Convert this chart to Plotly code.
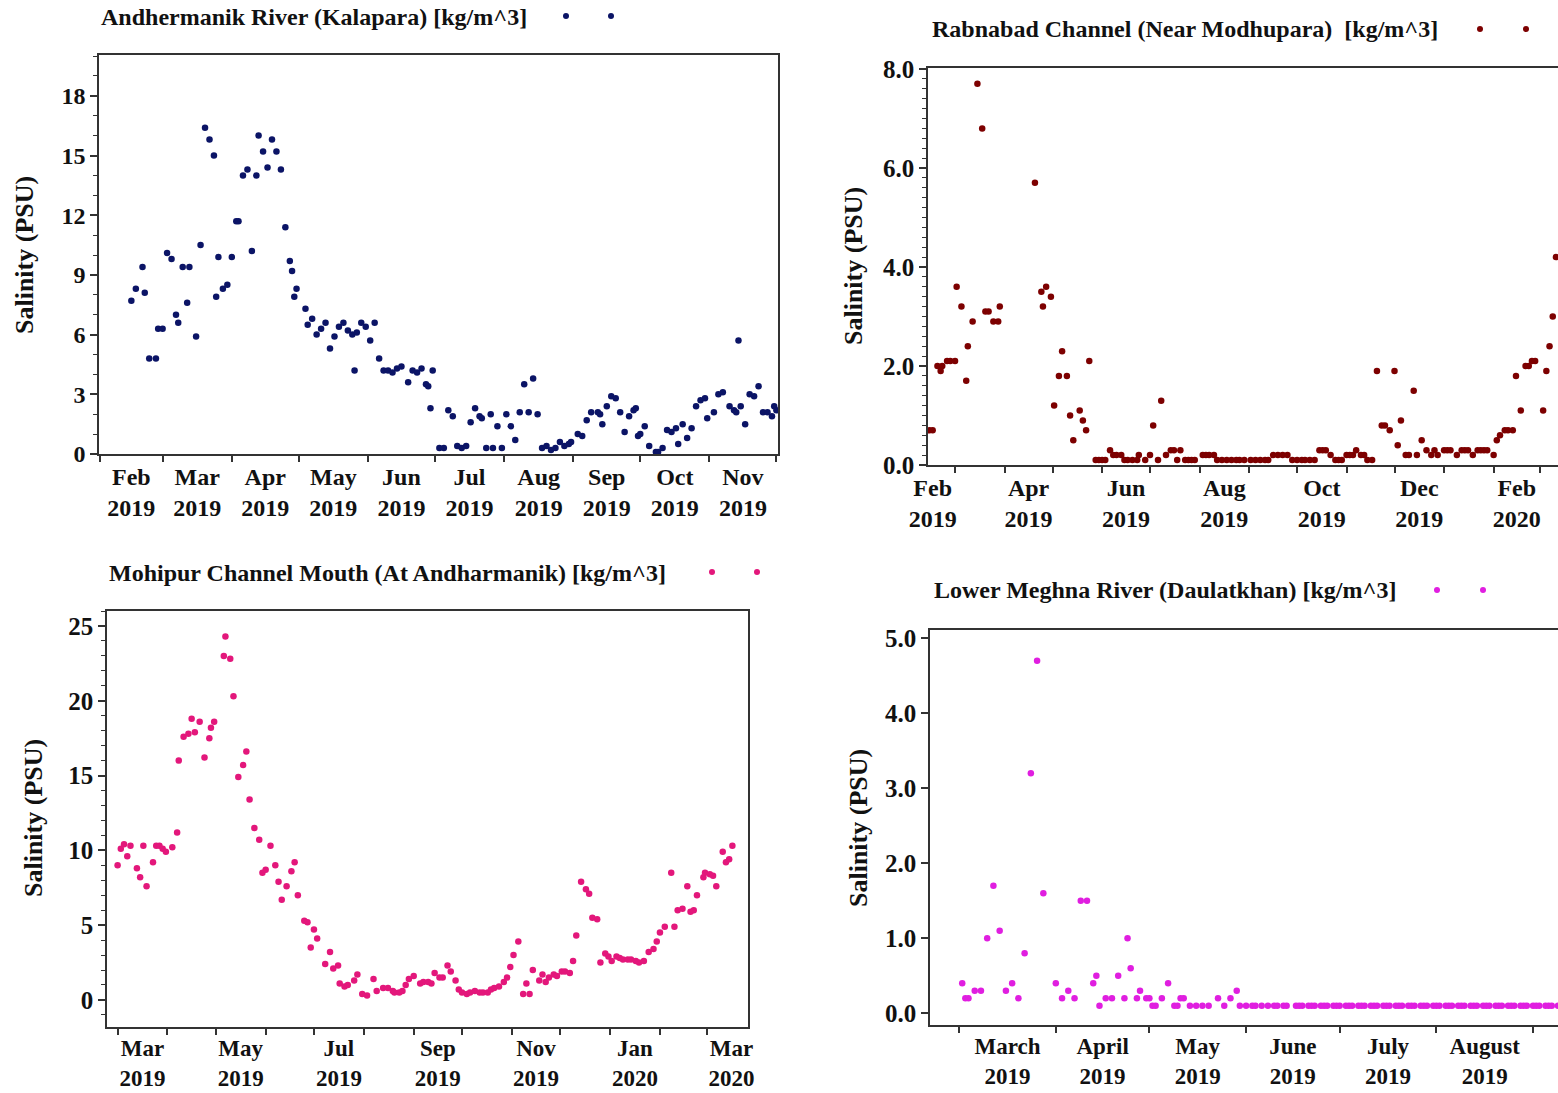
import pandas as pd
import plotly.graph_objects as go

# ---------------- DATA ----------------
# Panel 1: Andhermanik River (Kalapara)
A_DATES = [
    "2019-02-15", "2019-02-17", "2019-02-20", "2019-02-21", "2019-02-23", "2019-02-26", "2019-02-27",
    "2019-03-01", "2019-03-03", "2019-03-05", "2019-03-07", "2019-03-08", "2019-03-10", "2019-03-12",
    "2019-03-13", "2019-03-16", "2019-03-18", "2019-03-20", "2019-03-22", "2019-03-24", "2019-03-25",
    "2019-03-26", "2019-03-28", "2019-03-30",
    "2019-04-01", "2019-04-03", "2019-04-04", "2019-04-06", "2019-04-08", "2019-04-10", "2019-04-12",
    "2019-04-13", "2019-04-15", "2019-04-17", "2019-04-19", "2019-04-21", "2019-04-23", "2019-04-25",
    "2019-04-27", "2019-04-28", "2019-04-29", "2019-04-30",
    "2019-05-04", "2019-05-05", "2019-05-07", "2019-05-09", "2019-05-11", "2019-05-13", "2019-05-15",
    "2019-05-17", "2019-05-19", "2019-05-21", "2019-05-23", "2019-05-25", "2019-05-26", "2019-05-27",
    "2019-05-29", "2019-05-31",
    "2019-06-02", "2019-06-04", "2019-06-06", "2019-06-08", "2019-06-10", "2019-06-12", "2019-06-14",
    "2019-06-16", "2019-06-19", "2019-06-21", "2019-06-23", "2019-06-25", "2019-06-27", "2019-06-28",
    "2019-06-29", "2019-06-30",
    "2019-07-03", "2019-07-05", "2019-07-07", "2019-07-09", "2019-07-11", "2019-07-13", "2019-07-15",
    "2019-07-17", "2019-07-19", "2019-07-21", "2019-07-22", "2019-07-24", "2019-07-26", "2019-07-27",
    "2019-07-29", "2019-07-31",
    "2019-08-02", "2019-08-04", "2019-08-06", "2019-08-08", "2019-08-10", "2019-08-12", "2019-08-14",
    "2019-08-16", "2019-08-18", "2019-08-20", "2019-08-22", "2019-08-24", "2019-08-26", "2019-08-28",
    "2019-08-30", "2019-08-31",
    "2019-09-03", "2019-09-05", "2019-09-07", "2019-09-09", "2019-09-12", "2019-09-13", "2019-09-14",
    "2019-09-16", "2019-09-18", "2019-09-20", "2019-09-22", "2019-09-24", "2019-09-26", "2019-09-28",
    "2019-09-29", "2019-09-30",
    "2019-10-01", "2019-10-03", "2019-10-05", "2019-10-08", "2019-10-09", "2019-10-11", "2019-10-13",
    "2019-10-15", "2019-10-17", "2019-10-18", "2019-10-20", "2019-10-22", "2019-10-24", "2019-10-26",
    "2019-10-28", "2019-10-30", "2019-10-31",
    "2019-11-03", "2019-11-05", "2019-11-07", "2019-11-10", "2019-11-12", "2019-11-13", "2019-11-14",
    "2019-11-15", "2019-11-17", "2019-11-19", "2019-11-21", "2019-11-23", "2019-11-25", "2019-11-27",
    "2019-11-29", "2019-11-30", "2019-12-01",
]
A_VALUES = [
    7.7, 8.3, 9.4, 8.1, 4.8, 4.8, 6.3,
    6.3, 10.1, 9.8, 7.0, 6.6, 9.4, 7.6,
    9.4, 5.9, 10.5, 16.4, 15.8, 15.0, 7.9,
    9.9, 8.3, 8.5,
    9.9, 11.7, 11.7, 14.0, 14.3, 10.2, 14.0,
    16.0, 15.2, 14.4, 15.8, 15.2, 14.3, 11.4,
    9.7, 9.2, 7.9, 8.3,
    7.3, 6.5, 6.8, 6.0, 6.3, 6.6, 5.3,
    5.9, 6.4, 6.6, 6.2, 6.0, 4.2, 6.1,
    6.6, 6.4,
    5.7, 6.6, 4.8, 4.2, 4.2, 4.1, 4.3,
    4.4, 3.6, 4.2, 4.1, 4.3, 3.5, 3.4,
    2.3, 4.2,
    0.3, 0.3, 2.2, 1.9, 0.4, 0.3, 0.4,
    1.6, 2.3, 1.9, 1.8, 0.3, 2.0, 0.3,
    1.4, 0.3,
    2.0, 1.4, 0.7, 2.1, 3.5, 2.1, 3.8,
    2.0, 0.3, 0.4, 0.2, 0.3, 0.6, 0.4,
    0.5, 0.6,
    1.0, 0.9, 1.7, 2.1, 2.1, 2.0, 1.5,
    2.4, 2.9, 2.8, 2.1, 1.1, 1.9, 2.2,
    2.3, 0.9,
    1.0, 1.4, 0.4, 0.1, 0.1, 0.3, 1.2,
    1.1, 1.3, 0.5, 1.5, 0.8, 1.3, 2.4,
    2.7, 2.8, 1.8,
    2.1, 3.0, 3.1, 2.4, 2.2, 2.1, 5.7,
    2.4, 1.5, 3.0, 2.9, 3.4, 2.1, 2.1,
    1.9, 2.4, 2.2,
]

# Panel 2: Rabnabad Channel (Near Modhupara)
R_DATES = [
    "2019-02-13", "2019-02-15", "2019-02-18", "2019-02-20", "2019-02-21", "2019-02-24", "2019-02-26",
    "2019-03-01", "2019-03-02", "2019-03-05", "2019-03-08", "2019-03-09", "2019-03-12", "2019-03-15",
    "2019-03-18", "2019-03-20", "2019-03-22", "2019-03-25", "2019-03-28", "2019-03-29",
    "2019-04-20", "2019-04-24", "2019-04-25", "2019-04-27", "2019-04-30",
    "2019-05-02", "2019-05-05", "2019-05-07", "2019-05-10", "2019-05-12", "2019-05-14", "2019-05-18",
    "2019-05-20", "2019-05-22", "2019-05-24", "2019-05-28", "2019-05-30",
    "2019-06-01", "2019-06-03", "2019-06-06", "2019-06-08", "2019-06-10", "2019-06-13", "2019-06-15",
    "2019-06-17", "2019-06-20", "2019-06-23", "2019-06-24", "2019-06-28",
    "2019-07-01", "2019-07-03", "2019-07-06", "2019-07-08", "2019-07-11", "2019-07-14", "2019-07-16",
    "2019-07-18", "2019-07-20", "2019-07-23", "2019-07-25", "2019-07-27", "2019-07-29",
    "2019-08-03", "2019-08-05", "2019-08-07", "2019-08-10", "2019-08-12", "2019-08-15", "2019-08-18",
    "2019-08-21", "2019-08-24", "2019-08-26", "2019-08-29",
    "2019-09-02", "2019-09-05", "2019-09-08", "2019-09-11", "2019-09-13", "2019-09-16", "2019-09-19",
    "2019-09-22", "2019-09-25", "2019-09-28",
    "2019-10-01", "2019-10-04", "2019-10-06", "2019-10-09", "2019-10-12", "2019-10-15", "2019-10-17",
    "2019-10-19", "2019-10-22", "2019-10-25", "2019-10-27", "2019-10-29",
    "2019-11-01", "2019-11-03", "2019-11-05", "2019-11-07", "2019-11-10", "2019-11-12", "2019-11-14",
    "2019-11-17", "2019-11-20", "2019-11-23", "2019-11-25", "2019-11-28",
    "2019-12-01", "2019-12-03", "2019-12-05", "2019-12-08", "2019-12-10", "2019-12-13", "2019-12-15",
    "2019-12-18", "2019-12-21", "2019-12-24", "2019-12-26", "2019-12-28",
    "2020-01-01", "2020-01-03", "2020-01-05", "2020-01-09", "2020-01-12", "2020-01-14", "2020-01-16",
    "2020-01-19", "2020-01-22", "2020-01-24", "2020-01-26", "2020-01-28",
    "2020-02-01", "2020-02-03", "2020-02-05", "2020-02-08", "2020-02-10", "2020-02-13", "2020-02-15",
    "2020-02-18", "2020-02-21", "2020-02-23", "2020-02-25", "2020-02-27",
    "2020-03-03", "2020-03-05", "2020-03-07", "2020-03-09", "2020-03-11",
]
R_VALUES = [
    0.7, 0.7, 2.0, 1.9, 2.0, 2.1, 2.1,
    2.1, 3.6, 3.2, 1.7, 2.4, 2.9, 7.7,
    6.8, 3.1, 3.1, 2.9, 2.9, 3.2,
    5.7, 3.5, 3.2, 3.6, 3.4,
    1.2, 1.8, 2.3, 1.8, 1.0, 0.5, 1.1,
    0.9, 0.7, 2.1, 0.1, 0.1,
    0.1, 0.1, 0.3, 0.2, 0.2, 0.2, 0.1,
    0.1, 0.1, 0.1, 0.2, 0.1,
    0.2, 0.8, 0.1, 1.3, 0.2, 0.3, 0.3,
    0.1, 0.3, 0.1, 0.1, 0.1, 0.1,
    0.2, 0.2, 0.2, 0.2, 0.1, 0.1, 0.1,
    0.1, 0.1, 0.1, 0.1,
    0.1, 0.1, 0.1, 0.1, 0.1, 0.2, 0.2,
    0.2, 0.2, 0.1,
    0.1, 0.1, 0.1, 0.1, 0.1, 0.3, 0.3,
    0.3, 0.2, 0.1, 0.1, 0.1,
    0.2, 0.2, 0.2, 0.3, 0.2, 0.2, 0.1,
    0.1, 1.9, 0.8, 0.8, 0.7,
    1.9, 0.4, 0.9, 0.2, 0.2, 1.5, 0.2,
    0.5, 0.3, 0.2, 0.3, 0.2,
    0.3, 0.3, 0.3, 0.2, 0.3, 0.3, 0.3,
    0.2, 0.3, 0.3, 0.3, 0.3,
    0.2, 0.5, 0.6, 0.7, 0.7, 0.7, 1.8,
    1.1, 2.0, 2.0, 2.1, 2.1,
    1.1, 1.9, 2.4, 3.0, 4.2,
]

# Panel 3: Mohipur Channel Mouth (At Andharmanik)
M_DATES = [
    "2019-03-01", "2019-03-03", "2019-03-05", "2019-03-07", "2019-03-09", "2019-03-13", "2019-03-15",
    "2019-03-17", "2019-03-19", "2019-03-23", "2019-03-25", "2019-03-27", "2019-03-29", "2019-03-31",
    "2019-04-04", "2019-04-07", "2019-04-08", "2019-04-11", "2019-04-14", "2019-04-16", "2019-04-18",
    "2019-04-21", "2019-04-24", "2019-04-27", "2019-04-28", "2019-04-30",
    "2019-05-06", "2019-05-07", "2019-05-10", "2019-05-12", "2019-05-15", "2019-05-18", "2019-05-20",
    "2019-05-22", "2019-05-25", "2019-05-28", "2019-05-30",
    "2019-06-01", "2019-06-04", "2019-06-07", "2019-06-09", "2019-06-11", "2019-06-14", "2019-06-17",
    "2019-06-19", "2019-06-21", "2019-06-25", "2019-06-27", "2019-06-29",
    "2019-07-01", "2019-07-03", "2019-07-08", "2019-07-11", "2019-07-13", "2019-07-16", "2019-07-17",
    "2019-07-20", "2019-07-22", "2019-07-26", "2019-07-28", "2019-07-31",
    "2019-08-03", "2019-08-07", "2019-08-09", "2019-08-13", "2019-08-16", "2019-08-19", "2019-08-20",
    "2019-08-23", "2019-08-25", "2019-08-27", "2019-08-29",
    "2019-09-01", "2019-09-05", "2019-09-07", "2019-09-10", "2019-09-12", "2019-09-14", "2019-09-17",
    "2019-09-19", "2019-09-22", "2019-09-24", "2019-09-27", "2019-09-29",
    "2019-10-01", "2019-10-04", "2019-10-06", "2019-10-09", "2019-10-12", "2019-10-14", "2019-10-17",
    "2019-10-19", "2019-10-21", "2019-10-24", "2019-10-27", "2019-10-29", "2019-10-31",
    "2019-11-02", "2019-11-05", "2019-11-08", "2019-11-10", "2019-11-12", "2019-11-14", "2019-11-18",
    "2019-11-20", "2019-11-22", "2019-11-24", "2019-11-27", "2019-11-29",
    "2019-12-02", "2019-12-04", "2019-12-07", "2019-12-09", "2019-12-11", "2019-12-14", "2019-12-17",
    "2019-12-19", "2019-12-21", "2019-12-24", "2019-12-26", "2019-12-29", "2019-12-31",
    "2020-01-02", "2020-01-05", "2020-01-07", "2020-01-09", "2020-01-12", "2020-01-14", "2020-01-17",
    "2020-01-19", "2020-01-22", "2020-01-25", "2020-01-28", "2020-01-30",
    "2020-02-01", "2020-02-04", "2020-02-08", "2020-02-10", "2020-02-12", "2020-02-15", "2020-02-18",
    "2020-02-20", "2020-02-22", "2020-02-24", "2020-02-28", "2020-02-29",
    "2020-03-03", "2020-03-05", "2020-03-07", "2020-03-11", "2020-03-13", "2020-03-15", "2020-03-17",
]
M_VALUES = [
    9.0, 10.1, 10.4, 9.6, 10.3, 8.8, 8.2,
    10.3, 7.6, 9.2, 10.3, 10.3, 10.1, 9.9,
    10.2, 11.2, 16.0, 17.6, 17.8, 18.8, 17.9,
    18.6, 16.2, 17.5, 18.2, 18.6,
    23.0, 24.3, 22.8, 20.3, 14.9, 15.7, 16.6,
    13.4, 11.5, 10.7, 8.5,
    8.7, 10.3, 9.0, 7.9, 6.7, 7.6, 8.6,
    9.2, 7.0, 5.3, 5.2, 3.5,
    4.7, 4.1, 2.4, 3.2, 2.1, 2.3, 1.1,
    0.9, 1.0, 1.3, 1.7, 0.4,
    0.3, 1.4, 0.6, 0.8, 0.8, 0.6, 0.5,
    0.5, 0.6, 1.0, 1.4,
    1.6, 1.1, 1.2, 1.2, 1.1, 1.8, 1.5,
    1.5, 2.3, 1.9, 1.3, 0.7,
    0.5, 0.4, 0.5, 0.6, 0.5, 0.5, 0.5,
    0.7, 0.8, 0.9, 1.2, 1.5, 2.2,
    3.0, 3.9, 0.4, 1.1, 0.4, 2.0, 1.3,
    1.7, 1.2, 1.5, 1.7, 1.6,
    1.9, 1.9, 1.8, 2.6, 4.3, 7.9, 7.4,
    7.1, 5.5, 5.4, 2.5, 3.1, 2.9,
    2.6, 2.9, 2.8, 2.7, 2.7, 2.7, 2.6,
    2.5, 2.6, 3.2, 3.4, 3.9,
    4.5, 4.9, 8.5, 4.9, 6.0, 6.1, 7.6,
    5.9, 6.0, 7.0, 8.2, 8.5,
    8.4, 8.3, 7.6, 9.9, 9.2, 9.4, 10.3,
]

# Panel 4: Lower Meghna River (Daulatkhan)
L_DATES = [
    "2019-03-02", "2019-03-03", "2019-03-04", "2019-03-06", "2019-03-08", "2019-03-10", "2019-03-12",
    "2019-03-14", "2019-03-16", "2019-03-18", "2019-03-20", "2019-03-22", "2019-03-24", "2019-03-26",
    "2019-03-28",
    "2019-04-01", "2019-04-03", "2019-04-05", "2019-04-07", "2019-04-09", "2019-04-11", "2019-04-13",
    "2019-04-14", "2019-04-15", "2019-04-17", "2019-04-19", "2019-04-21", "2019-04-23", "2019-04-24",
    "2019-04-25", "2019-04-27", "2019-04-28", "2019-04-30",
    "2019-05-01", "2019-05-02", "2019-05-03", "2019-05-05", "2019-05-07", "2019-05-09", "2019-05-10",
    "2019-05-11", "2019-05-12", "2019-05-14", "2019-05-16", "2019-05-18", "2019-05-20", "2019-05-23",
    "2019-05-25", "2019-05-27", "2019-05-29", "2019-05-30",
    "2019-06-01", "2019-06-03", "2019-06-04", "2019-06-06", "2019-06-08", "2019-06-10", "2019-06-11",
    "2019-06-13", "2019-06-14",
    "2019-06-17", "2019-06-18", "2019-06-19", "2019-06-21", "2019-06-22", "2019-06-23", "2019-06-25",
    "2019-06-26", "2019-06-27", "2019-06-29", "2019-06-30",
    "2019-07-01", "2019-07-03", "2019-07-04", "2019-07-05", "2019-07-07", "2019-07-08", "2019-07-09",
    "2019-07-11", "2019-07-12", "2019-07-13", "2019-07-15", "2019-07-16", "2019-07-17", "2019-07-19",
    "2019-07-20", "2019-07-21", "2019-07-23", "2019-07-24", "2019-07-25", "2019-07-27", "2019-07-28",
    "2019-07-29", "2019-07-31",
    "2019-08-01", "2019-08-02", "2019-08-04", "2019-08-05", "2019-08-06", "2019-08-08", "2019-08-09",
    "2019-08-10", "2019-08-12", "2019-08-13", "2019-08-14", "2019-08-16", "2019-08-17", "2019-08-18",
    "2019-08-20", "2019-08-21", "2019-08-22", "2019-08-24", "2019-08-25", "2019-08-26", "2019-08-28",
    "2019-08-29", "2019-08-30",
    "2019-09-01", "2019-09-02", "2019-09-03", "2019-09-05", "2019-09-06", "2019-09-07", "2019-09-09",
]
L_VALUES = [
    0.4, 0.2, 0.2, 0.3, 0.3, 1.0, 1.7,
    1.1, 0.3, 0.4, 0.2, 0.8, 3.2, 4.7,
    1.6,
    0.4, 0.2, 0.3, 0.2, 1.5, 1.5, 0.4,
    0.5, 0.1, 0.2, 0.2, 0.5, 0.2, 1.0,
    0.6, 0.2, 0.3, 0.2,
    0.2, 0.1, 0.1, 0.2, 0.4, 0.1, 0.1,
    0.2, 0.2, 0.1, 0.1, 0.1, 0.1, 0.2,
    0.1, 0.2, 0.3, 0.1,
    0.1, 0.1, 0.1, 0.1, 0.1, 0.1, 0.1,
    0.1, 0.1,
    0.1, 0.1, 0.1, 0.1, 0.1, 0.1, 0.1,
    0.1, 0.1, 0.1, 0.1,
    0.1, 0.1, 0.1, 0.1, 0.1, 0.1, 0.1,
    0.1, 0.1, 0.1, 0.1, 0.1, 0.1, 0.1,
    0.1, 0.1, 0.1, 0.1, 0.1, 0.1, 0.1,
    0.1, 0.1,
    0.1, 0.1, 0.1, 0.1, 0.1, 0.1, 0.1,
    0.1, 0.1, 0.1, 0.1, 0.1, 0.1, 0.1,
    0.1, 0.1, 0.1, 0.1, 0.1, 0.1, 0.1,
    0.1, 0.1,
    0.1, 0.1, 0.1, 0.1, 0.1, 0.1, 0.1,
]

# Titles and tick labels
TITLES = [
    "Andhermanik River (Kalapara) [kg/m^3]",
    "Rabnabad Channel (Near Modhupara)  [kg/m^3]",
    "Mohipur Channel Mouth (At Andharmanik) [kg/m^3]",
    "Lower Meghna River (Daulatkhan) [kg/m^3]",
]
Y_TITLE = "Salinity (PSU)"

P1_LABEL_MONTHS = ["2019-02", "2019-03", "2019-04", "2019-05", "2019-06",
                   "2019-07", "2019-08", "2019-09", "2019-10", "2019-11"]
P1_LABELS = ["Feb<br>2019", "Mar<br>2019", "Apr<br>2019", "May<br>2019", "Jun<br>2019",
             "Jul<br>2019", "Aug<br>2019", "Sep<br>2019", "Oct<br>2019", "Nov<br>2019"]
P2_LABEL_MONTHS = ["2019-02", "2019-04", "2019-06", "2019-08", "2019-10", "2019-12", "2020-02"]
P2_LABELS = ["Feb<br>2019", "Apr<br>2019", "Jun<br>2019", "Aug<br>2019", "Oct<br>2019",
             "Dec<br>2019", "Feb<br>2020"]
P3_LABEL_MONTHS = ["2019-03", "2019-05", "2019-07", "2019-09", "2019-11", "2020-01", "2020-03"]
P3_LABELS = ["Mar<br>2019", "May<br>2019", "Jul<br>2019", "Sep<br>2019", "Nov<br>2019",
             "Jan<br>2020", "Mar<br>2020"]
P4_LABEL_MONTHS = ["2019-03", "2019-04", "2019-05", "2019-06", "2019-07", "2019-08"]
P4_LABELS = ["March<br>2019", "April<br>2019", "May<br>2019", "June<br>2019",
             "July<br>2019", "August<br>2019"]

COLORS = ["#0b1466", "#7d0000", "#e3177b", "#e01ee0"]

# ---------------- LAYOUT ----------------
W, H = 1558, 1093
FONT = "Liberation Serif, Times New Roman, serif"
AXC = "#333333"
TXT = "#111111"

for d, v in [(A_DATES, A_VALUES), (R_DATES, R_VALUES), (M_DATES, M_VALUES), (L_DATES, L_VALUES)]:
    assert len(d) == len(v), (len(d), len(v))


def fx(p):
    return p / W


def fy(p):
    return 1 - p / H


def month_mid(ym):
    s = pd.Timestamp(ym + "-01")
    e = s + pd.offsets.MonthBegin(1)
    return s + (e - s) / 2


def xaxis_cfg(dom, rng, months, labels, anchor, size, standoff):
    starts = pd.date_range(pd.Timestamp(rng[0]).to_period("M").to_timestamp(), rng[1], freq="MS")
    return dict(
        domain=dom, range=rng, type="date", anchor=anchor, automargin=False,
        tickmode="array", tickvals=[month_mid(m) for m in months], ticktext=labels,
        ticks="outside", ticklen=standoff, tickcolor="rgba(0,0,0,0)",
        tickfont=dict(family=FONT, size=size, color=TXT, weight="bold"),
        minor=dict(tickmode="array", tickvals=list(starts), ticks="outside",
                   ticklen=6, tickwidth=1.5, tickcolor=AXC, showgrid=False),
        showline=True, linecolor=AXC, linewidth=1.6, mirror=True,
        showgrid=False, zeroline=False,
    )


def yaxis_cfg(dom, rng, dtick, minor_dtick, fmt, size, anchor, mirror=True):
    cfg = dict(
        domain=dom, range=rng, anchor=anchor, automargin=False,
        tickmode="linear", tick0=0, dtick=dtick,
        ticks="outside", ticklen=7, tickwidth=1.5, tickcolor=AXC, tickformat=fmt,
        tickfont=dict(family=FONT, size=size, color=TXT, weight="bold"),
        showline=True, linecolor=AXC, linewidth=1.6, mirror=mirror,
        showgrid=False, zeroline=False,
    )
    if minor_dtick:
        cfg["minor"] = dict(dtick=minor_dtick, ticks="outside", ticklen=4,
                            tickwidth=1.2, tickcolor=AXC, showgrid=False)
    return cfg


fig = go.Figure()
series = [(A_DATES, A_VALUES), (R_DATES, R_VALUES), (M_DATES, M_VALUES), (L_DATES, L_VALUES)]
for i, (d, v) in enumerate(series):
    sfx = "" if i == 0 else str(i + 1)
    fig.add_trace(go.Scatter(
        x=d, y=v, mode="markers", xaxis="x" + sfx, yaxis="y" + sfx,
        marker=dict(color=COLORS[i], size=6.5, line=dict(width=0)),
        name=TITLES[i], showlegend=False,
    ))

fig.update_layout(
    width=W, height=H, autosize=False,
    margin=dict(l=0, r=0, t=0, b=0, autoexpand=False),
    paper_bgcolor="white", plot_bgcolor="white",
    showlegend=False,
    xaxis=xaxis_cfg([fx(99), fx(778)], ["2019-01-31 12:00", "2019-12-01 17:00"],
                    P1_LABEL_MONTHS, P1_LABELS, "y", 24, 0),
    yaxis=yaxis_cfg([fy(454), fy(55)], [0, 20.05], 3, 1, "d", 24, "x"),
    xaxis2=xaxis_cfg([fx(928), 1.0], ["2019-02-12 02:00", "2020-03-12 07:00"],
                     P2_LABEL_MONTHS, P2_LABELS, "y2", 24, 0),
    yaxis2=yaxis_cfg([fy(465), fy(68)], [0, 8.02], 2, 0.2, ".1f", 25, "x2", mirror=False),
    xaxis3=xaxis_cfg([fx(107), fx(748)], ["2019-02-22 10:00", "2020-03-26 17:00"],
                     P3_LABEL_MONTHS, P3_LABELS, "y3", 23, 0),
    yaxis3=yaxis_cfg([fy(1027), fy(611)], [-1.81, 26.0], 5, 1, "d", 25, "x3"),
    xaxis4=xaxis_cfg([fx(930), 1.0], ["2019-02-19 16:00", "2019-09-09 00:00"],
                     P4_LABEL_MONTHS, P4_LABELS, "y4", 23, 0),
    yaxis4=yaxis_cfg([fy(1025), fy(630)], [-0.156, 5.11], 1, None, ".1f", 25, "x4", mirror=False),
)

# Series titles (legend-like) with two marker dots
title_pos = [(99, 17), (930, 29), (107, 573), (932, 590)]
dot_pos = [((566, 16), (611, 16)), ((1480, 29), (1526, 29)),
           ((712, 572), (757, 572)), ((1437, 590), (1483, 590))]
ytitle_pos = [(25, 255), (853, 266), (33, 818), (858, 828)]

annotations = []
shapes = []
for i in range(4):
    tx, ty = title_pos[i]
    annotations.append(dict(
        xref="paper", yref="paper", x=fx(tx), y=fy(ty), xanchor="left", yanchor="middle",
        text=TITLES[i], showarrow=False,
        font=dict(family=FONT, size=24, color=TXT, weight="bold"),
    ))
    ax, ay = ytitle_pos[i]
    annotations.append(dict(
        xref="paper", yref="paper", x=fx(ax), y=fy(ay), xanchor="center", yanchor="middle",
        text=Y_TITLE, textangle=-90, showarrow=False,
        font=dict(family=FONT, size=26, color=TXT, weight="bold"),
    ))
    for (cx, cy) in dot_pos[i]:
        shapes.append(dict(
            type="circle", xref="paper", yref="paper",
            x0=fx(cx - 3), x1=fx(cx + 3), y0=fy(cy + 3), y1=fy(cy - 3),
            fillcolor=COLORS[i], line=dict(width=0),
        ))

fig.update_layout(annotations=annotations, shapes=shapes)

fig.write_html(
    "out.html",
    config={"displayModeBar": False},
    post_script="document.body.style.margin='0';document.body.style.overflow='hidden';",
)
